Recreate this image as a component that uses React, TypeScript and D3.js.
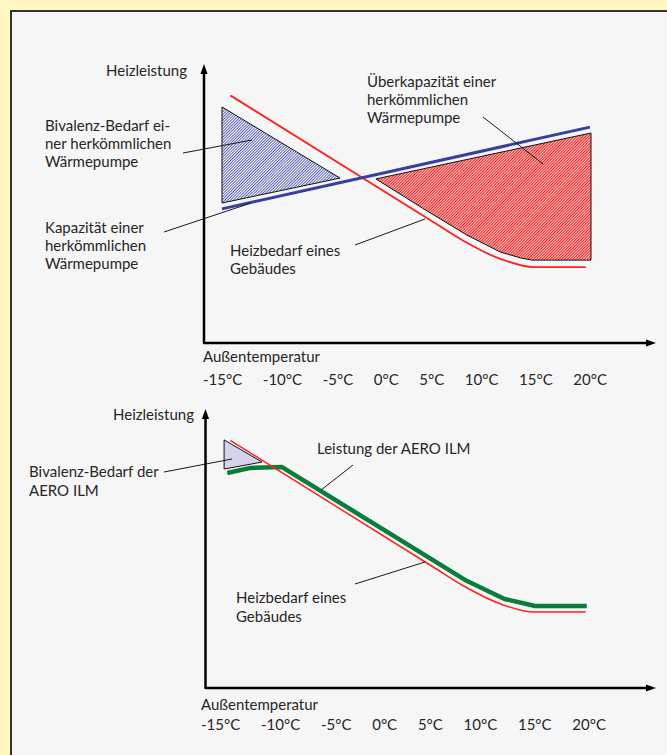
import React, { useEffect, useRef } from "react";
import * as d3 from "d3";

// ---------- data (temperature in °C, heating power in arbitrary units 0..100) ----------
const tickTemps = [-15, -10, -5, 0, 5, 10, 15, 20];
const tickLabels = tickTemps.map((t) => `${t}°C`);

const demandTemp = [-14.2, 5.0, 7.8, 11.5, 14.6, 19.5];
const demandPower = [88.4, 43.3, 36.7, 29.9, 27.1, 27.1];

const capacityTemp = [-15, 19.9];
const capacityPower = [47.9, 77.1];

const bivalenzTopTemp = [-15, -3.8, -15];
const bivalenzTopPower = [84.3, 58.9, 50.0];

const overTemp = [-0.4, 20, 20, 14.4, 13.3, 11.4, 8.2, 4.0];
const overPower = [58.6, 75.0, 29.6, 29.6, 30.4, 32.5, 38.6, 48.2];

const aeroTemp = [-14.5, -12.3, -9.3, 8.05, 11.8, 14.7, 19.6];
const aeroPower = [76.8, 78.6, 78.9, 38.6, 31.8, 29.3, 29.3];

const bivalenzAeroTemp = [-14.8, -11.2, -14.8];
const bivalenzAeroPower = [88.6, 80.7, 78.2];

const zip = (a: number[], b: number[]) => a.map((t, i) => [t, b[i]] as [number, number]);

// ---------- layout ----------
const W = 667;
const H = 755;
const FONT = "Lato, 'Open Sans', sans-serif";
const FS = 15;
const TEXT = "#262626";

const x = d3.scaleLinear().domain([-15, 20]).range([222, 591]);

function Axes({ baseY, axisX }: { baseY: number; axisX: number }) {
  const topY = baseY - 278;
  const tipX = 655;
  return (
    <g>
      <path
        d={`M${axisX},${topY + 6} L${axisX},${baseY} L${tipX - 6},${baseY}`}
        fill="none"
        stroke="#000"
        strokeWidth={2.5}
        strokeLinejoin="round"
      />
      <polygon points={`${axisX},${topY - 1} ${axisX - 3.6},${topY + 9} ${axisX + 3.6},${topY + 9}`} fill="#000" />
      <polygon points={`${tipX + 1},${baseY} ${tipX - 9},${baseY - 3.6} ${tipX - 9},${baseY + 3.6}`} fill="#000" />
    </g>
  );
}

function Lines({ lines, x0, y0, lh = 18 }: { lines: string[]; x0: number; y0: number; lh?: number }) {
  return (
    <text x={x0} y={y0} fontFamily={FONT} fontSize={FS} fill={TEXT}>
      {lines.map((l, i) => (
        <tspan key={i} x={x0} y={y0 + i * lh}>
          {l}
        </tspan>
      ))}
    </text>
  );
}

function TickRow({ y, start, end }: { y: number; start: number; end: number }) {
  return (
    <g className="tickrow" data-start={start} data-end={end}>
      {tickLabels.map((l, i) => (
        <text key={l} x={start + i * 50} y={y} fontFamily={FONT} fontSize={FS} fill={TEXT}>
          {l}
        </text>
      ))}
    </g>
  );
}

export default function App() {
  const ref = useRef<SVGSVGElement>(null);

  useEffect(() => {
    if (!ref.current) return;
    d3.select(ref.current)
      .selectAll<SVGGElement, unknown>(".tickrow")
      .each(function () {
        const g = d3.select(this);
        const start = +g.attr("data-start");
        const end = +g.attr("data-end");
        const texts = g.selectAll<SVGTextElement, unknown>("text").nodes();
        const widths = texts.map((t) => t.getComputedTextLength());
        const total = d3.sum(widths);
        const gap = (end - start - total) / (texts.length - 1);
        let cx = start;
        texts.forEach((t, i) => {
          t.setAttribute("x", String(cx));
          cx += widths[i] + gap;
        });
      });
  }, []);

  const yTop = d3.scaleLinear().domain([0, 100]).range([343, 63]);
  const yBot = d3.scaleLinear().domain([0, 100]).range([688, 408]);

  const lineTop = d3.line<[number, number]>().x((d) => x(d[0])).y((d) => yTop(d[1]));
  const lineBot = d3.line<[number, number]>().x((d) => x(d[0])).y((d) => yBot(d[1]));
  const smoothTop = d3
    .line<[number, number]>()
    .x((d) => x(d[0]))
    .y((d) => yTop(d[1]))
    .curve(d3.curveMonotoneX);
  const smoothBot = d3
    .line<[number, number]>()
    .x((d) => x(d[0]))
    .y((d) => yBot(d[1]))
    .curve(d3.curveMonotoneX);

  const leader = (x1: number, y1: number, x2: number, y2: number) => (
    <line x1={x1} y1={y1} x2={x2} y2={y2} stroke="#1a1a1a" strokeWidth={1} />
  );

  return (
    <svg
      ref={ref}
      width={W}
      height={H}
      viewBox={`0 0 ${W} ${H}`}
      style={{ position: "fixed", left: 0, top: 0, display: "block" }}
    >
      <defs>
        <pattern id="hatchBlue" patternUnits="userSpaceOnUse" width={2} height={2} patternTransform="rotate(45)">
          <rect width={2} height={2} fill="#ffffff" />
          <rect width={0.9} height={2} fill="#4a50ab" />
        </pattern>
        <pattern id="hatchRed" patternUnits="userSpaceOnUse" width={2} height={2} patternTransform="rotate(45)">
          <rect width={2} height={2} fill="#ffffff" />
          <rect width={1.25} height={2} fill="#ec2020" />
        </pattern>
      </defs>

      {/* background */}
      <rect x={0} y={0} width={W} height={H} fill="#fff8c2" />
      <rect x={11} y={11} width={W} height={H} fill="#f6f6f6" stroke="#333" strokeWidth={2} />

      {/* ---------------- top chart ---------------- */}
      <path d={lineTop(zip(bivalenzTopTemp, bivalenzTopPower)) + "Z"} fill="url(#hatchBlue)" stroke="#111" strokeWidth={1} />
      <path d={lineTop(zip(overTemp, overPower)) + "Z"} fill="url(#hatchRed)" stroke="#111" strokeWidth={1} strokeLinejoin="round" />
      <path d={smoothTop(zip(demandTemp, demandPower)) || ""} fill="none" stroke="#ff2020" strokeWidth={1.8} />
      <path d={lineTop(zip(capacityTemp, capacityPower)) || ""} fill="none" stroke="#3a3f9f" strokeWidth={3} />
      <Axes baseY={343} axisX={204} />

      <text x={187} y={76} fontFamily={FONT} fontSize={FS} fill={TEXT} textAnchor="end">
        Heizleistung
      </text>
      <Lines lines={["Bivalenz-Bedarf ei-", "ner herkömmlichen", "Wärmepumpe"]} x0={45} y0={131} />
      {leader(183, 153, 252, 140)}
      <Lines lines={["Kapazität einer", "herkömmlichen", "Wärmepumpe"]} x0={45} y0={233} />
      {leader(164, 232, 251, 203)}
      <Lines lines={["Heizbedarf eines", "Gebäudes"]} x0={230} y0={256} />
      {leader(355, 245, 425, 219)}
      <Lines lines={["Überkapazität einer", "herkömmlichen", "Wärmepumpe"]} x0={367} y0={87} />
      {leader(483, 117, 543, 164)}
      <text x={203} y={362} fontFamily={FONT} fontSize={FS} fill={TEXT}>
        Außentemperatur
      </text>
      <TickRow y={385} start={203} end={607} />

      {/* ---------------- bottom chart ---------------- */}
      <path d={lineBot(zip(bivalenzAeroTemp, bivalenzAeroPower)) + "Z"} fill="#d3d4ec" stroke="#111" strokeWidth={1} />
      <path d={lineBot(zip(aeroTemp, aeroPower)) || ""} fill="none" stroke="#0b7d3b" strokeWidth={4.5} strokeLinejoin="round" />
      <path d={smoothBot(zip(demandTemp, demandPower)) || ""} fill="none" stroke="#ff2020" strokeWidth={1.5} />
      <Axes baseY={688} axisX={205.5} />

      <text x={194} y={420} fontFamily={FONT} fontSize={FS} fill={TEXT} textAnchor="end">
        Heizleistung
      </text>
      <Lines lines={["Bivalenz-Bedarf der", "AERO ILM"]} x0={29} y0={477} lh={19} />
      {leader(164, 472, 232, 459)}
      <text x={317} y={454} fontFamily={FONT} fontSize={FS} fill={TEXT}>
        Leistung der AERO ILM
      </text>
      {leader(353, 465, 321, 490)}
      <Lines lines={["Heizbedarf eines", "Gebäudes"]} x0={236} y0={603} lh={19} />
      {leader(355, 584, 425, 562)}
      <text x={201} y={710} fontFamily={FONT} fontSize={FS} fill={TEXT}>
        Außentemperatur
      </text>
      <TickRow y={730} start={201} end={606} />
    </svg>
  );
}
